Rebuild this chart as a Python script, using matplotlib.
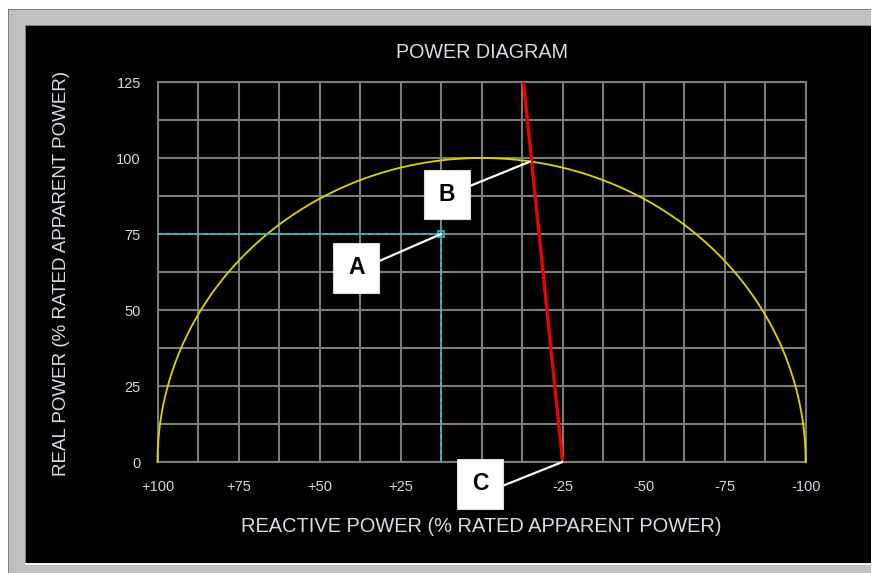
import numpy as np
import matplotlib
matplotlib.use("Agg")
import matplotlib.pyplot as plt
from matplotlib import patches

plt.rcParams['font.family'] = ['Liberation Sans', 'DejaVu Sans']

# axis ticks
x_ticks = [100, 75, 50, 25, 0, -25, -50, -75, -100]
x_tick_labels = ['+100', '+75', '+50', '+25', '', '-25', '-50', '-75', '-100']
y_ticks = [0, 25, 50, 75, 100, 125]
y_tick_labels = ['0', '25', '50', '75', '100', '125']

# capability circle radius (% rated apparent power)
circle_radius = 100

# operating point A (reactive, real)
point_a = (12.5, 75)

# red limit line end points (reactive, real)
limit_x = [-25, -12.9]
limit_y = [0, 125]

# callout labels: text, box centre, box size, leader start, leader end
callout_text = ['A', 'B', 'C']
callout_centre = [(38.7, 63.9), (10.6, 88.0), (0.45, -7.2)]
callout_size = (14.2, 16.4)
leader_start = [(31.6, 66.1), (3.6, 90.8), (-6.6, -7.8)]
leader_end = [(12.5, 75), (-14.9, 98.8), (-24.9, 0)]

W, H = 874, 573
fig = plt.figure(figsize=(W / 100, H / 100), dpi=100, facecolor='white')

def px_rect(x0, y0, x1, y1, color):
    # rectangle in pixel coords measured from the top-left corner
    fig.patches.append(patches.Rectangle((x0 / W, 1 - y1 / H), (x1 - x0) / W, (y1 - y0) / H,
                                         transform=fig.transFigure, facecolor=color,
                                         edgecolor='none', zorder=-10))

# window frame
px_rect(8, 9, 871, 573, '#c0c0c0')
px_rect(8, 9, 871, 10, '#808080')
px_rect(8, 9, 9, 573, '#808080')
px_rect(25, 25, 871, 26, '#808080')
px_rect(25, 25, 26, 563, '#808080')
px_rect(26, 26, 871, 563, 'black')
px_rect(25, 563, 871, 565, '#f0f0f0')

ax = fig.add_axes([157.5 / W, (H - 462) / H, (805.7 - 157.5) / W, (462 - 82) / H])
ax.set_facecolor('black')
ax.set_xlim(100, -100)
ax.set_ylim(0, 125)

grid_col = '#7c7c7c'
ax.set_xticks(x_ticks)
ax.set_xticklabels(x_tick_labels)
ax.set_yticks(y_ticks)
ax.set_yticklabels(y_tick_labels)
ax.set_xticks(np.arange(-100, 100.1, 12.5), minor=True)
ax.set_yticks(np.arange(0, 125.1, 12.5), minor=True)
ax.grid(True, which='both', color=grid_col, linewidth=1.5)
ax.set_axisbelow(True)
ax.tick_params(which='both', length=0)
ax.tick_params(axis='x', pad=13, labelsize=10.5, labelcolor='#d4d8e4')
ax.tick_params(axis='y', pad=12, labelsize=10.5, labelcolor='#d4d8e4')
for s in ax.spines.values():
    s.set_color(grid_col)
    s.set_linewidth(1.5)

# semicircle
theta = np.linspace(0, np.pi, 400)
ax.plot(circle_radius * np.cos(theta), circle_radius * np.sin(theta),
        color='#d8d800', linewidth=1.3, zorder=3, clip_on=False)

# operating point with dashed guides
ax.plot([100, point_a[0]], [point_a[1], point_a[1]], color='#1cc8cc',
        linewidth=1.2, dashes=(3, 1.5), zorder=3)
ax.plot([point_a[0], point_a[0]], [0, point_a[1]], color='#1cc8cc',
        linewidth=1.2, dashes=(3, 1.5), zorder=3)
ax.plot(point_a[0], point_a[1], marker='s', markersize=5, markerfacecolor='none',
        markeredgecolor='#1cc8cc', markeredgewidth=1.2, zorder=4)

# limit line
ax.plot(limit_x, limit_y, color='#ee0000', linewidth=2.4, zorder=4,
        solid_capstyle='butt')

# callouts
for txt, c, s0, s1 in zip(callout_text, callout_centre, leader_start, leader_end):
    ax.plot([s0[0], s1[0]], [s0[1], s1[1]], color='white', linewidth=1.6,
            zorder=5, clip_on=False)
    ax.add_patch(patches.Rectangle((c[0] + callout_size[0] / 2, c[1] - callout_size[1] / 2),
                                   -callout_size[0], callout_size[1], facecolor='white',
                                   edgecolor='#dddddd', linewidth=0.8, zorder=6, clip_on=False))
    ax.text(c[0], c[1], txt, ha='center', va='center', fontsize=16.5, fontweight='bold',
            color='black', zorder=7)

fig.text(481.5 / W, 1 - 53 / H, 'POWER DIAGRAM', ha='center', va='center',
         fontsize=14.2, color='#d8dce6')
fig.text(481 / W, 1 - 527 / H, 'REACTIVE POWER (% RATED APPARENT POWER)', ha='center',
         va='center', fontsize=14.4, color='#d8dce6')
fig.text(62 / W, 1 - 273 / H, 'REAL POWER (% RATED APPARENT POWER)', ha='center',
         va='center', rotation=90, fontsize=13.5, color='#d8dce6')

fig.savefig('out.png', dpi=100, facecolor='white')
